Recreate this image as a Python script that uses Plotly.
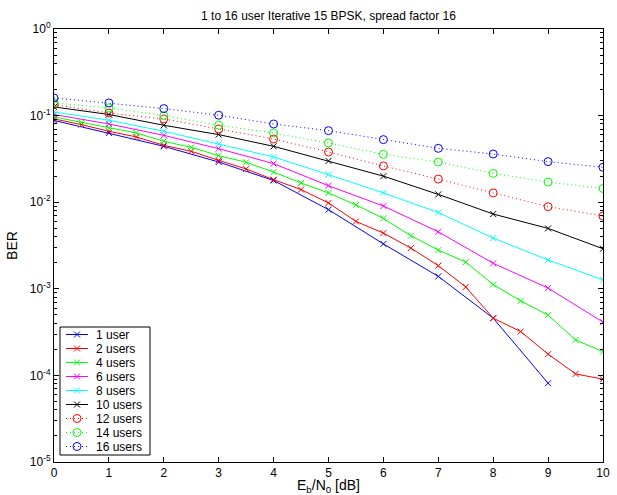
import plotly.graph_objects as go

x_int = [0, 1, 2, 3, 4, 5, 6, 7, 8, 9, 10]
x_half = [0, 0.5, 1, 1.5, 2, 2.5, 3, 3.5, 4, 4.5, 5, 5.5, 6, 6.5, 7, 7.5, 8, 8.5, 9, 9.5, 10]
x_1user = [0, 1, 2, 3, 4, 5, 6, 7, 8, 9]

ber_1 = [0.088, 0.063, 0.0442, 0.0291, 0.0178, 0.0082, 0.0033, 0.00139, 0.000458, 0.0000813]
ber_2 = [0.0916, 0.0787, 0.0659, 0.0567, 0.0454, 0.0387, 0.0304, 0.0242, 0.0182, 0.0140,
         0.0098, 0.0060, 0.0044, 0.00295, 0.00185, 0.00105, 0.000458, 0.000321, 0.000176,
         0.000104, 0.0000904]
ber_4 = [0.0965, 0.0837, 0.072, 0.063, 0.0505, 0.043, 0.0345, 0.0289, 0.0223, 0.0167,
         0.0128, 0.0093, 0.0065, 0.0041, 0.0028, 0.00203, 0.00112, 0.000726, 0.000497,
         0.000257, 0.000188]
ber_6 = [0.103, 0.080, 0.0592, 0.0415, 0.0279, 0.0155, 0.00904, 0.00455, 0.00197, 0.00102, 0.000412]
ber_8 = [0.110, 0.0883, 0.0659, 0.047, 0.0333, 0.0208, 0.0128, 0.0076, 0.00385, 0.00215, 0.00127]
ber_10 = [0.126, 0.103, 0.0773, 0.0603, 0.0442, 0.030, 0.020, 0.0123, 0.0073, 0.00498, 0.0029]
ber_12 = [0.134, 0.107, 0.0916, 0.070, 0.0537, 0.038, 0.0262, 0.0185, 0.0128, 0.00887, 0.00692]
ber_14 = [0.140, 0.123, 0.100, 0.0773, 0.063, 0.0483, 0.0357, 0.0291, 0.0215, 0.0171, 0.0144]
ber_16 = [0.160, 0.140, 0.1205, 0.101, 0.080, 0.067, 0.0528, 0.0419, 0.036, 0.0294, 0.0253]

series = [
    ("1 user", x_1user, ber_1, "#0000ff", "x"),
    ("2 users", x_half, ber_2, "#ff0000", "x"),
    ("4 users", x_half, ber_4, "#00ff00", "x"),
    ("6 users", x_int, ber_6, "#ff00ff", "x"),
    ("8 users", x_int, ber_8, "#00ffff", "x"),
    ("10 users", x_int, ber_10, "#000000", "x"),
    ("12 users", x_int, ber_12, "#ff0000", "o"),
    ("14 users", x_int, ber_14, "#00ff00", "o"),
    ("16 users", x_int, ber_16, "#0000ff", "o"),
]

# plot area in pixels (used for the hand-drawn MATLAB-style legend overlay)
L, R, T, B = 54, 603, 29, 462
W, H = 617, 495


def style(col, kind):
    if kind == "x":
        return (dict(color=col, width=1),
                dict(symbol="x-thin", size=6, line=dict(color=col, width=1), color=col))
    return (dict(color=col, width=1, dash="1px,3px"),
            dict(symbol="circle-open", size=8, line=dict(color=col, width=1), color=col))


fig = go.Figure()
for name, xs, ys, col, kind in series:
    ln, mk = style(col, kind)
    fig.add_trace(go.Scatter(x=xs, y=ys, name=name, mode="lines+markers",
                             line=ln, marker=mk, showlegend=False, xaxis="x", yaxis="y"))

# legend (overlay axes in pixel units)
leg_x0, leg_x1, leg_y0 = 60, 150, 327
row_h = 14.0
first_row = 334.5
for i, (name, xs, ys, col, kind) in enumerate(series):
    yc = first_row + i * row_h
    ln, mk = style(col, kind)
    fig.add_trace(go.Scatter(x=[66, 77, 88], y=[yc, yc, yc], mode="lines",
                             line=ln, showlegend=False, hoverinfo="skip",
                             xaxis="x2", yaxis="y2"))
    fig.add_trace(go.Scatter(x=[77], y=[yc], mode="markers", marker=mk,
                             showlegend=False, hoverinfo="skip", xaxis="x2", yaxis="y2"))
    fig.add_annotation(x=94, y=yc, xref="x2", yref="y2", text=name, showarrow=False,
                       xanchor="left", yanchor="middle", font=dict(size=12))
leg_y1 = first_row + (len(series) - 1) * row_h + 8.5
fig.add_shape(type="rect", x0=leg_x0, x1=leg_x1, y0=leg_y0, y1=leg_y1,
              xref="x2", yref="y2", line=dict(color="black", width=1),
              fillcolor="white", layer="below")

font = "Liberation Sans, Arial, sans-serif"
ytv = [1, 0.1, 0.01, 0.001, 0.0001, 0.00001]
ytt = ["10<sup>0</sup>", "10<sup>-1</sup>", "10<sup>-2</sup>", "10<sup>-3</sup>", "10<sup>-4</sup>", "10<sup>-5</sup>"]

fig.update_layout(
    width=W, height=H,
    margin=dict(l=L, r=W - R, t=T, b=H - B, autoexpand=False),
    paper_bgcolor="white", plot_bgcolor="white",
    font=dict(family=font, size=12, color="black"),
    title=dict(text="1 to 16 user Iterative 15 BPSK, spread factor 16",
               x=0.5, xref="paper", xanchor="center",
               y=1 - 16 / H, yref="container", yanchor="middle",
               font=dict(size=12)),
    xaxis=dict(range=[0, 10], tickvals=x_int, showgrid=False, zeroline=False, automargin=False,
               showline=True, linecolor="black", linewidth=1, mirror="ticks",
               ticks="inside", ticklen=5, tickcolor="black",
               title=dict(text="E<sub>b</sub>/N<sub>0</sub> [dB]", standoff=0)),
    yaxis=dict(type="log", range=[-5, 0], tickvals=ytv, ticktext=ytt, showgrid=False,
               zeroline=False, showline=True, linecolor="black", linewidth=1, mirror="ticks",
               ticks="inside", ticklen=5, tickcolor="black", automargin=False,
               minor=dict(ticks="inside", ticklen=3, tickcolor="black", dtick="D1", showgrid=False),
               title=dict(text="BER", standoff=8)),
    xaxis2=dict(overlaying="x", range=[L, R], visible=False, fixedrange=True),
    yaxis2=dict(overlaying="y", range=[B, T], visible=False, fixedrange=True),
    showlegend=False,
)

fig.write_html("out.html", config={"displayModeBar": False},
               post_script="document.body.style.margin='0';")
